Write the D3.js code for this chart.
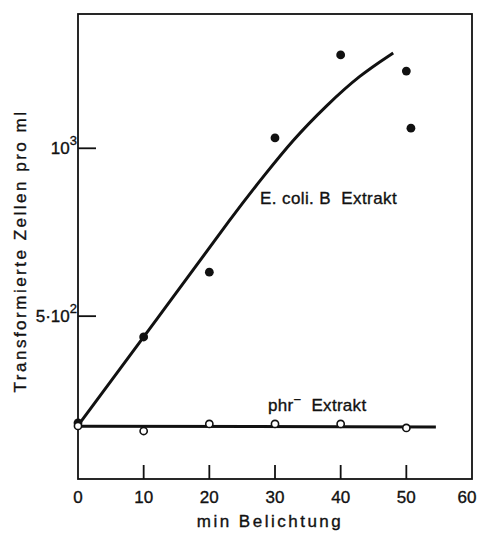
<!DOCTYPE html>
<html>
<head>
<meta charset="utf-8">
<script src="https://cdn.jsdelivr.net/npm/d3@7"></script>
<style>
  html, body { margin: 0; padding: 0; background: #fff; }
  svg text { font-family: "Liberation Sans", Arial, sans-serif; fill: #111; stroke: #111; stroke-width: 0.35px; }
</style>
</head>
<body>
<svg id="chart" width="480" height="536"></svg>
<script>
// Belichtungszeit (min) and transformed cells per ml
const xTickValues = [0, 10, 20, 30, 40, 50, 60];
const yTickValues = [500, 1000];
const yTickBase = ["5·10", "10"];
const yTickExp = ["2", "3"];

// E. coli B extract: measured points
const ecoliX = [0, 10, 20, 30, 40, 50, 50.7];
const ecoliY = [182, 438, 631, 1031, 1278, 1230, 1060];
// E. coli B extract: fitted curve
const ecoliCurveX = [0.3, 12, 24.4, 28.2, 32.7, 37.9, 42.9, 48];
const ecoliCurveY = [182, 490, 822, 915, 1025, 1129, 1218, 1284];

// phr- extract: measured points and flat line
const phrX = [0, 10, 20, 30, 40, 50];
const phrY = [173, 158, 179, 179, 179, 167];
const phrLineX = [0, 54.5];
const phrLineY = [172, 170];

const svg = d3.select("#chart");
const plotLeft = 78, plotRight = 472, plotTop = 14, plotBottom = 479;

const x = d3.scaleLinear().domain([0, 60]).range([plotLeft, plotRight]);
const y = d3.scaleLinear().domain([15, 1400]).range([plotBottom, plotTop]);

// frame
svg.append("rect")
  .attr("x", plotLeft).attr("y", plotTop)
  .attr("width", plotRight - plotLeft).attr("height", plotBottom - plotTop)
  .attr("fill", "none").attr("stroke", "#111").attr("stroke-width", 1.8);

// inward tick marks on bottom and left edges, drawn as thin filled bars
const ticks = svg.append("g").attr("fill", "#111");
ticks.selectAll("rect.xt")
  .data(xTickValues.slice(1, -1))
  .join("rect")
  .attr("class", "xt")
  .attr("x", d => x(d) - 0.9).attr("y", plotBottom - 14)
  .attr("width", 1.8).attr("height", 14);
ticks.selectAll("rect.yt")
  .data(yTickValues)
  .join("rect")
  .attr("class", "yt")
  .attr("x", plotLeft).attr("y", d => y(d) - 0.9)
  .attr("width", 18).attr("height", 1.8);

// bottom tick labels
svg.append("g").selectAll("text")
  .data(xTickValues)
  .join("text")
  .attr("x", d => x(d) + (d === 60 ? -5 : 0))
  .attr("y", plotBottom + 24)
  .attr("text-anchor", "middle")
  .attr("font-size", 17)
  .text(d => d);

// left tick labels with exponents
svg.append("g").selectAll("text")
  .data(yTickValues)
  .join("text")
  .attr("x", plotLeft - 1)
  .attr("y", d => y(d) + 6)
  .attr("text-anchor", "end")
  .attr("font-size", 17)
  .each(function(d, i) {
    const t = d3.select(this);
    t.append("tspan").text(yTickBase[i]);
    t.append("tspan").attr("dy", -9).attr("font-size", 13).text(yTickExp[i]);
  });

// axis titles
svg.append("text")
  .attr("x", 270).attr("y", 527)
  .attr("text-anchor", "middle")
  .attr("font-size", 17)
  .style("letter-spacing", "2.5px")
  .text("min Belichtung");

svg.append("text")
  .attr("transform", "translate(26,251) rotate(-90)")
  .attr("text-anchor", "middle")
  .attr("font-size", 17)
  .style("letter-spacing", "2.5px")
  .text("Transformierte Zellen pro ml");

// curves
const smooth = d3.line().x(d => x(d[0])).y(d => y(d[1])).curve(d3.curveBasis);
svg.append("path")
  .datum(ecoliCurveX.map((v, i) => [v, ecoliCurveY[i]]))
  .attr("d", smooth)
  .attr("fill", "none").attr("stroke", "#111").attr("stroke-width", 3);

svg.append("path")
  .datum(phrLineX.map((v, i) => [v, phrLineY[i]]))
  .attr("d", d3.line().x(d => x(d[0])).y(d => y(d[1])))
  .attr("fill", "none").attr("stroke", "#111").attr("stroke-width", 3);

// points
svg.append("g").selectAll("circle")
  .data(ecoliX.map((v, i) => [v, ecoliY[i]]))
  .join("circle")
  .attr("cx", d => x(d[0])).attr("cy", d => y(d[1]))
  .attr("r", 4.4).attr("fill", "#111");

svg.append("g").selectAll("circle")
  .data(phrX.map((v, i) => [v, phrY[i]]))
  .join("circle")
  .attr("cx", d => x(d[0])).attr("cy", d => y(d[1]))
  .attr("r", 3.6).attr("fill", "#fff").attr("stroke", "#111").attr("stroke-width", 1.6);

// series labels
svg.append("text")
  .attr("x", 260).attr("y", 204)
  .attr("font-size", 17)
  .style("letter-spacing", "0.4px")
  .attr("xml:space", "preserve")
  .text("E. coli. B  Extrakt");

const phr = svg.append("text")
  .attr("x", 268).attr("y", 411)
  .attr("font-size", 17)
  .style("letter-spacing", "0.3px")
  .attr("xml:space", "preserve");
phr.append("tspan").text("phr");
phr.append("tspan").attr("dy", -7).attr("font-size", 13).text("−");
phr.append("tspan").attr("dy", 7).text("  Extrakt");
</script>
</body>
</html>
